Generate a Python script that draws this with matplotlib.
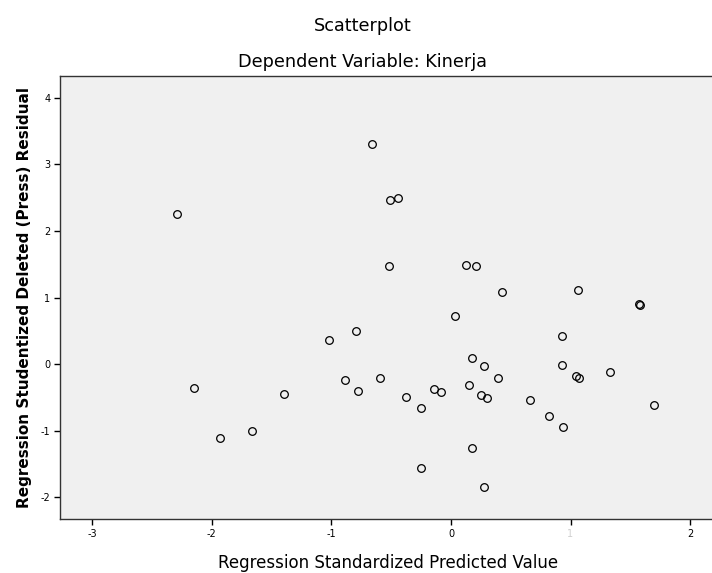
import matplotlib
matplotlib.use("Agg")
import matplotlib.pyplot as plt

# Regression standardized predicted value (x) vs studentized deleted residual (y)
pred = [-0.66, -0.51, -0.44, -2.29, -0.52, 0.13, 0.21, 0.43, 1.06, 1.57,
        1.58, 0.03, -0.79, -1.02, 0.93, 0.18, 0.28, 0.93, 1.05, 1.07,
        1.33, -0.89, -0.59, 0.39, -2.15, -0.78, -0.14, -0.08, 0.15, 0.25,
        0.30, -1.40, -0.38, -0.25, 0.66, 0.82, 0.94, 1.70, -1.66, -1.93,
        0.18, -0.25, 0.28]
resid = [3.31, 2.47, 2.50, 2.26, 1.47, 1.49, 1.47, 1.08, 1.11, 0.90,
         0.89, 0.72, 0.50, 0.36, 0.42, 0.09, -0.03, -0.02, -0.18, -0.21,
         -0.12, -0.24, -0.21, -0.21, -0.36, -0.41, -0.38, -0.42, -0.32, -0.47,
         -0.51, -0.45, -0.50, -0.66, -0.54, -0.78, -0.95, -0.62, -1.01, -1.11,
         -1.26, -1.56, -1.85]

xticks = [-3, -2, -1, 0, 1, 2]
yticks = [-2, -1, 0, 1, 2, 3, 4]

W, H = 712, 573
fig = plt.figure(figsize=(W / 100, H / 100), dpi=100)
ax = fig.add_axes([60 / W, (H - 519) / H, (716 - 60) / W, (519 - 76) / H])
ax.set_facecolor('#f0f0f0')

ax.plot(pred, resid, linestyle='none', marker='o', markersize=5.5,
        markerfacecolor='none', markeredgecolor='black', markeredgewidth=0.9)

ax.set_xlim(-3.27, 2.217)
ax.set_ylim(-2.33, 4.33)
ax.set_xticks(xticks)
ax.set_xticklabels([str(t) for t in xticks])
ax.set_yticks(yticks)
ax.set_yticklabels([str(t) for t in yticks])
ax.get_xticklabels()[4].set_color('#d0d0d0')
ax.tick_params(direction='out', length=4, width=1, labelsize=7, pad=3)

for s in ax.spines.values():
    s.set_linewidth(1.0)
    s.set_color('#333333')

ax.set_xlabel('Regression Standardized Predicted Value', fontsize=12, labelpad=11)
ax.set_ylabel('Regression Studentized Deleted (Press) Residual', fontsize=11,
              fontweight='bold', labelpad=6)

fig.text(363 / W, 1 - 26 / H, 'Scatterplot', ha='center', va='center', fontsize=12.7)
fig.text(363 / W, 1 - 62 / H, 'Dependent Variable: Kinerja', ha='center', va='center',
         fontsize=12.7)

fig.savefig('out.png', dpi=100)
